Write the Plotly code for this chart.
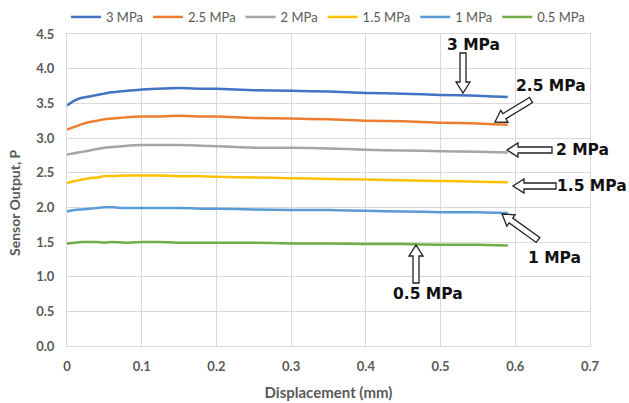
import math
import plotly.graph_objects as go

W, H = 629, 403
ML, MR, MT, MB = 67, 39, 34, 57

disp = [0, 0.01, 0.02, 0.03, 0.04, 0.05, 0.06, 0.08, 0.1, 0.12, 0.15, 0.18, 0.2, 0.25, 0.3, 0.35, 0.4, 0.45, 0.5, 0.55, 0.59]
p3_0 = [3.47, 3.54, 3.58, 3.60, 3.62, 3.64, 3.66, 3.68, 3.70, 3.71, 3.72, 3.71, 3.71, 3.69, 3.68, 3.67, 3.65, 3.64, 3.62, 3.61, 3.59]
p2_5 = [3.12, 3.16, 3.20, 3.23, 3.25, 3.27, 3.28, 3.30, 3.31, 3.31, 3.32, 3.31, 3.31, 3.29, 3.28, 3.27, 3.25, 3.24, 3.22, 3.21, 3.19]
p2_0 = [2.76, 2.78, 2.80, 2.82, 2.84, 2.86, 2.87, 2.89, 2.90, 2.90, 2.90, 2.89, 2.88, 2.86, 2.86, 2.85, 2.83, 2.82, 2.81, 2.80, 2.79]
p1_5 = [2.35, 2.38, 2.40, 2.42, 2.43, 2.45, 2.45, 2.46, 2.46, 2.46, 2.45, 2.45, 2.44, 2.43, 2.42, 2.41, 2.40, 2.39, 2.38, 2.37, 2.36]
p1_0 = [1.94, 1.96, 1.97, 1.98, 1.99, 2.00, 2.00, 1.99, 1.99, 1.99, 1.99, 1.98, 1.98, 1.97, 1.96, 1.96, 1.95, 1.94, 1.93, 1.93, 1.92]
p0_5 = [1.48, 1.49, 1.50, 1.50, 1.50, 1.49, 1.50, 1.49, 1.50, 1.50, 1.49, 1.49, 1.49, 1.49, 1.48, 1.48, 1.47, 1.47, 1.46, 1.46, 1.45]

names = ["3 MPa", "2.5 MPa", "2 MPa", "1.5 MPa", "1 MPa", "0.5 MPa"]
series = [p3_0, p2_5, p2_0, p1_5, p1_0, p0_5]
colors = ["#4472C4", "#ED7D31", "#A5A5A5", "#FFC000", "#5B9BD5", "#70AD47"]

x_ticks = [0, 0.1, 0.2, 0.3, 0.4, 0.5, 0.6, 0.7]
x_tick_labels = ["0", "0.1", "0.2", "0.3", "0.4", "0.5", "0.6", "0.7"]
y_ticks = [0, 0.5, 1.0, 1.5, 2.0, 2.5, 3.0, 3.5, 4.0, 4.5]
y_tick_labels = ["0.0", "0.5", "1.0", "1.5", "2.0", "2.5", "3.0", "3.5", "4.0", "4.5"]

fig = go.Figure()
for n, s, c in zip(names, series, colors):
    fig.add_trace(go.Scatter(x=disp, y=s, name=n, mode="lines",
                             line=dict(color=c, width=2.5, shape="spline", smoothing=0.6)))

PW, PH = W - ML - MR, H - MT - MB


def px2p(px, py):
    return (px - ML) / PW, (MT + PH - py) / PH


def block_arrow(tail, tip, shaft=6, head_w=14, head_l=11):
    tx, ty = tail
    hx, hy = tip
    L = math.hypot(hx - tx, hy - ty)
    ux, uy = (hx - tx) / L, (hy - ty) / L
    nx, ny = -uy, ux
    bx, by = hx - ux * head_l, hy - uy * head_l
    pts = [
        (tx + nx * shaft / 2, ty + ny * shaft / 2),
        (bx + nx * shaft / 2, by + ny * shaft / 2),
        (bx + nx * head_w / 2, by + ny * head_w / 2),
        (hx, hy),
        (bx - nx * head_w / 2, by - ny * head_w / 2),
        (bx - nx * shaft / 2, by - ny * shaft / 2),
        (tx - nx * shaft / 2, ty - ny * shaft / 2),
    ]
    d = []
    for i, (px, py) in enumerate(pts):
        x, y = px2p(px, py)
        d.append(("M" if i == 0 else "L") + f"{x:.5f},{y:.5f}")
    return " ".join(d) + " Z"


labels = [
    ("3 MPa", (473, 45), (463, 53), (463, 93)),
    ("2.5 MPa", (551, 86), (531, 100), (495, 122)),
    ("2 MPa", (582, 150), (552, 150), (507, 150)),
    ("1.5 MPa", (592, 186), (556, 186), (513, 186)),
    ("1 MPa", (554, 258), (538, 240), (502, 214)),
    ("0.5 MPa", (428, 294), (416, 283), (416, 245)),
]

for text, tpos, tail, tip in labels:
    fig.add_shape(type="path", path=block_arrow(tail, tip), xref="paper", yref="paper",
                  line=dict(color="#222222", width=1.3), fillcolor="white", layer="above")
    x, y = px2p(*tpos)
    fig.add_annotation(x=x, y=y, xref="paper", yref="paper", text=f"<b>{text}</b>", showarrow=False,
                       xanchor="center", yanchor="middle",
                       font=dict(family="DejaVu Sans, sans-serif", size=15.5, color="#111111"))

# y-axis title placed as in the reference (slightly below the plot centre)
tx, ty = px2p(14, 203)
fig.add_annotation(x=tx, y=ty, xref="paper", yref="paper", text="Sensor Output, P", showarrow=False,
                   textangle=-90, xanchor="center", yanchor="middle",
                   font=dict(family="Lato, sans-serif", size=14, color="#595959", weight="bold"))

fig.update_layout(
    width=W, height=H,
    margin=dict(l=ML, r=MR, t=MT, b=MB, autoexpand=False),
    paper_bgcolor="white", plot_bgcolor="white",
    font=dict(family="Lato, sans-serif", color="#595959"),
    legend=dict(orientation="h", x=328 / W, xanchor="center", xref="container",
                y=1 - 17 / H, yanchor="middle", yref="container",
                font=dict(size=13, color="#595959"), itemwidth=30,
                tracegroupgap=0, bgcolor="rgba(0,0,0,0)"),
    showlegend=True,
)

fig.update_xaxes(range=[0, 0.7], tickvals=x_ticks, ticktext=x_tick_labels, automargin=False,
                 showgrid=True, gridcolor="#d9d9d9", gridwidth=1,
                 showline=True, linecolor="#d9d9d9", mirror=True, zeroline=False,
                 ticks="", ticklabelstandoff=8,
                 tickfont=dict(size=13, color="#595959", family="Lato, sans-serif", weight="bold"),
                 title=dict(text="Displacement (mm)", font=dict(size=15, color="#595959", family="Lato, sans-serif", weight="bold"), standoff=14))
fig.update_yaxes(range=[0, 4.5], tickvals=y_ticks, ticktext=y_tick_labels, automargin=False,
                 showgrid=True, gridcolor="#d9d9d9", gridwidth=1,
                 showline=True, linecolor="#d9d9d9", mirror=True, zeroline=False,
                 ticks="", ticklabelstandoff=9,
                 tickfont=dict(size=13, color="#595959", family="Lato, sans-serif", weight="bold"))

fig.write_html("out.html", config={"displayModeBar": False},
               post_script="document.body.style.margin='0';document.body.style.overflow='hidden';")
